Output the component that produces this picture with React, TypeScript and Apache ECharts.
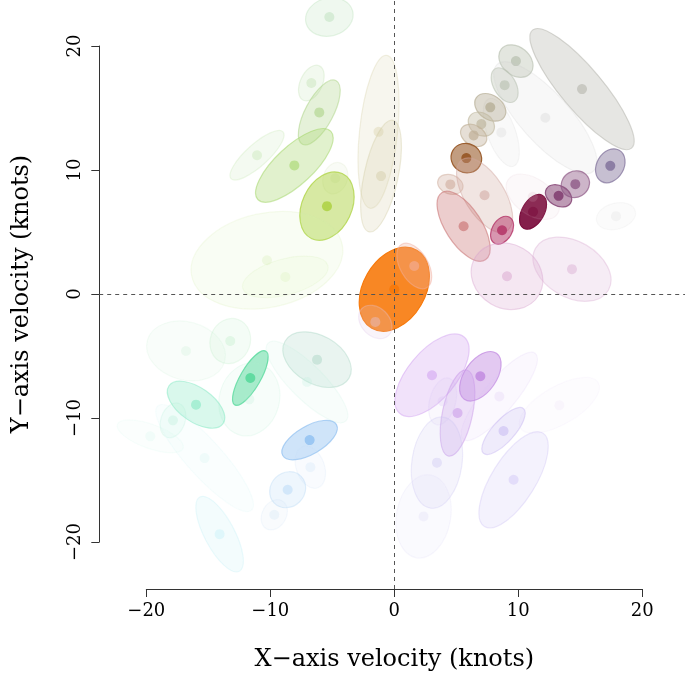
import React, { useEffect, useRef } from "react";
import * as echarts from "echarts";

// Ellipse centres (knots), semi-axes (knots), orientation (deg, CCW from +x), colour and opacity
const centerX = [0, -5.24, -6.69, -6.05, -11.07, -8.06, -4.76, -5.43, -10.27, -8.79, -1.27, -1.07, 15.14, 9.81, 8.9, 12.18, 8.63, 7.74, 7.02, 6.4, 5.81, 4.52, 7.28, 5.59, 8.69, 11.19, 11.17, 13.25, 14.6, 17.42, 17.88, 9.09, 14.33, 1.61, -1.53, -16.8, -13.23, -11.61, -11.69, -15.99, -17.85, -19.68, -15.3, -14.09, -6.23, -7.04, -6.83, -6.77, -8.6, -9.68, 3.04, 6.94, 5.1, 3.9, 8.47, 13.31, 8.81, 9.62, 3.44, 2.36];
const centerY = [0.4, 22.34, 17.02, 14.65, 11.2, 10.38, 9.35, 7.1, 2.74, 1.4, 13.09, 9.52, 16.53, 18.79, 16.85, 14.22, 13.04, 15.06, 13.71, 12.8, 10.97, 8.85, 7.98, 5.48, 5.16, 6.64, 7.85, 7.93, 8.87, 10.35, 6.29, 1.45, 2.02, 2.28, -2.23, -4.57, -3.77, -6.75, -8.47, -8.9, -10.16, -11.45, -13.2, -19.33, -5.27, -7.07, -11.75, -13.93, -15.75, -17.77, -6.53, -6.61, -9.57, -8.63, -8.23, -8.95, -11.02, -14.95, -13.57, -17.9];
const semiMajor = [3.63, 1.94, 1.53, 2.9, 2.82, 4.03, 1.3, 2.9, 6.2, 3.55, 6.2, 4.6, 6.21, 1.53, 1.53, 5.8, 2.9, 1.37, 1.13, 1.13, 1.25, 1.05, 3.39, 3.23, 1.21, 1.53, 2.42, 1.13, 1.17, 1.45, 1.61, 2.98, 3.39, 2.02, 1.53, 3.23, 1.85, 2.5, 2.98, 2.66, 1.45, 2.82, 5.65, 3.39, 2.98, 4.44, 2.5, 1.77, 1.53, 1.29, 4.03, 2.26, 3.55, 1.94, 4.52, 3.63, 2.42, 4.44, 3.71, 3.39];
const semiMinor = [2.5, 1.53, 0.89, 1.13, 0.89, 1.53, 0.97, 2.0, 3.8, 1.45, 1.53, 1.37, 1.69, 1.13, 0.89, 2.0, 1.13, 0.97, 0.89, 0.81, 1.17, 0.77, 1.61, 1.45, 0.81, 0.89, 1.45, 0.81, 1.05, 1.09, 1.05, 2.58, 2.26, 1.13, 1.13, 2.34, 1.61, 0.81, 2.42, 1.37, 0.97, 0.97, 1.45, 1.21, 1.94, 1.37, 1.13, 1.13, 1.37, 0.97, 1.94, 1.29, 1.21, 1.05, 1.29, 1.53, 0.89, 1.77, 2.02, 2.18];
const angleDeg = [60, 15, 65, 62, 42, 43, 70, 65, 12, 15, 84, 78, -50, -40, -60, -48, -70, -35, -35, -30, -30, -20, -58, -57, 60, 60, -35, -30, 30, 60, 15, -30, -30, -60, -45, -15, 70, 60, 75, -35, 70, -20, -48, -62, -30, -45, 30, -70, 45, 60, 50, 55, 78, 75, 50, 30, 48, 58, 82, 80];
const ellipseColor = ["#f77a0c", "#b0dcb0", "#b8dca8", "#a8d080", "#b8e0a0", "#a8d870", "#c8d8a8", "#b0d448", "#d0eca8", "#d0eca8", "#d8d0a8", "#d0c8a0", "#b8b8b0", "#b8c0b0", "#b8c0b0", "#c8c8c8", "#c8c8c8", "#b8b098", "#c0b8a0", "#c0b098", "#9a5c2c", "#d0b0a0", "#d0a8a0", "#c87070", "#b84070", "#7a0c3c", "#d8b0c0", "#884878", "#905c88", "#80709a", "#d0d0d0", "#d8a0cc", "#d8a8d0", "#f0b0a0", "#e0c8e8", "#c0eccc", "#b8ecc0", "#50d898", "#b0ecd0", "#80e8c0", "#a8ecd0", "#b8f0e0", "#c0f0ec", "#b0ecf4", "#a8d4c4", "#b8ecdc", "#88bcf0", "#c0dcf4", "#a8d0f4", "#c0dcf0", "#d0a0f0", "#c088e0", "#c898e8", "#d0b8f0", "#dcc8f4", "#e8d8f4", "#c0b0f0", "#c8bcf4", "#c8c0f0", "#d8d4f4"];
const ellipseAlpha = [0.9, 0.2, 0.18, 0.3, 0.15, 0.35, 0.1, 0.5, 0.12, 0.1, 0.2, 0.22, 0.35, 0.4, 0.35, 0.12, 0.1, 0.45, 0.4, 0.4, 0.6, 0.35, 0.3, 0.35, 0.55, 0.92, 0.08, 0.55, 0.45, 0.45, 0.08, 0.25, 0.22, 0.3, 0.2, 0.1, 0.15, 0.5, 0.1, 0.3, 0.12, 0.06, 0.08, 0.15, 0.25, 0.1, 0.4, 0.1, 0.2, 0.1, 0.3, 0.45, 0.3, 0.1, 0.12, 0.08, 0.25, 0.2, 0.18, 0.12];

const tickValues = [-20, -10, 0, 10, 20];
const xTitle = "X\u2212axis velocity (knots)";
const yTitle = "Y\u2212axis velocity (knots)";

function rgba(hex: string, a: number) {
  const n = parseInt(hex.slice(1), 16);
  const r = (n >> 16) & 255, g = (n >> 8) & 255, b = n & 255;
  return `rgba(${r},${g},${b},${Math.min(1, a)})`;
}

const FONT = "DejaVu Serif";

export default function App() {
  const ref = useRef<HTMLDivElement>(null);
  useEffect(() => {
    if (!ref.current) return;
    const chart = echarts.init(ref.current, undefined, { renderer: "svg" });
    const data = centerX.map((x, i) => [x, centerY[i], semiMajor[i], semiMinor[i], angleDeg[i]]);
    const fmt = (v: number) => String(v).replace("-", "\u2212");
    chart.setOption({
      animation: false,
      grid: [
        { left: 99.2, top: 0, width: 590.2, height: 589, containLabel: false, outerBoundsMode: "none" },
        { left: 146.3, top: 46, width: 496, height: 496, containLabel: false, outerBoundsMode: "none" },
      ],
      xAxis: [
        { gridIndex: 0, type: "value", min: -23.8, max: 23.8, show: false },
        {
          gridIndex: 1, type: "value", min: tickValues[0], max: tickValues[tickValues.length - 1], interval: 10,
          position: "bottom", offset: 47,
          axisLine: { show: true, onZero: false, lineStyle: { color: "#333", width: 1 } },
          axisTick: { show: true, length: 8, lineStyle: { color: "#333" } },
          splitLine: { show: false },
          axisLabel: { formatter: fmt, fontFamily: FONT, fontSize: 18, color: "#000", margin: 11 },
          name: xTitle, nameLocation: "middle", nameGap: 57,
          nameTextStyle: { fontFamily: FONT, fontSize: 24, color: "#000" },
        },
      ],
      yAxis: [
        { gridIndex: 0, type: "value", min: -23.75, max: 23.71, show: false },
        {
          gridIndex: 1, type: "value", min: tickValues[0], max: tickValues[tickValues.length - 1], interval: 10,
          position: "left", offset: 47,
          axisLine: { show: true, onZero: false, lineStyle: { color: "#333", width: 1 } },
          axisTick: { show: true, length: 8, lineStyle: { color: "#333" } },
          splitLine: { show: false },
          axisLabel: { formatter: fmt, fontFamily: FONT, fontSize: 18, color: "#000", margin: 17, rotate: 90 },
          name: yTitle, nameLocation: "middle", nameGap: 67, nameRotate: 90,
          nameTextStyle: { fontFamily: FONT, fontSize: 24, color: "#000" },
        },
      ],
      series: [
        {
          type: "custom",
          xAxisIndex: 0,
          yAxisIndex: 0,
          clip: false,
          silent: true,
          data,
          renderItem: (params: any, api: any) => {
            const i = params.dataIndex;
            const c = api.coord([api.value(0), api.value(1)]);
            const s = api.size([api.value(2), api.value(3)]);
            const col = ellipseColor[i];
            const al = ellipseAlpha[i];
            return {
              type: "group",
              children: [
                {
                  type: "ellipse",
                  x: c[0], y: c[1],
                  rotation: (api.value(4) * Math.PI) / 180,
                  shape: { cx: 0, cy: 0, rx: s[0], ry: s[1] },
                  style: { fill: rgba(col, al), stroke: rgba(col, al * 1.6), lineWidth: 1.2 },
                },
                {
                  type: "circle",
                  shape: { cx: c[0], cy: c[1], r: 5 },
                  style: { fill: rgba(col, al * 1.7 + 0.05) },
                },
              ],
            };
          },
          markLine: {
            silent: true,
            symbol: "none",
            label: { show: false },
            lineStyle: { type: [4, 4], color: "#555", width: 1 },
            data: [{ xAxis: 0 }, { yAxis: 0 }],
          },
        },
      ],
    });
    return () => chart.dispose();
  }, []);
  return <div ref={ref} style={{ position: "fixed", left: 0, top: 0, width: 685, height: 675 }} />;
}
